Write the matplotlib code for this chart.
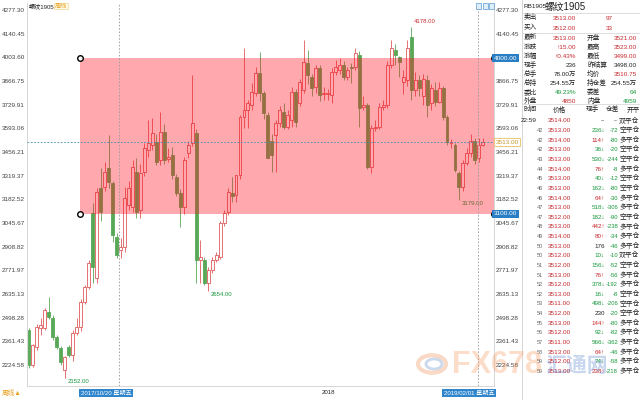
import matplotlib
matplotlib.use('Agg')
import matplotlib.pyplot as plt
from matplotlib.patches import Rectangle, Circle
import numpy as np

plt.rcParams['font.family'] = ['Liberation Sans', 'Noto Sans CJK SC', 'DejaVu Sans']

# weekly candles, RB1905
opens = [2428, 2225, 2329, 2440, 2440, 2533, 2497, 2387, 2323, 2196,
         2329, 2283, 2410, 2445, 2590, 2676, 3104, 2730, 3248, 3254,
         3364, 3277, 2965, 2890, 2907, 3150, 3140, 3343, 3121, 3341,
         3468, 3497, 3514, 3410, 3572, 3415, 3439, 3312, 3220, 3139,
         3450, 3508, 3566, 2835, 2832, 2699, 2774, 2832, 2850, 3046,
         3110, 3220, 3208, 3323, 3658, 3699, 3728, 3797, 3913, 3797,
         3670, 3520, 3555, 3624, 3688, 3601, 3641, 3803, 3740, 3815,
         3971, 3890, 3832, 3942, 3790, 3792, 3786, 3919, 3930, 3960,
         3890, 3948, 3948, 4017, 3718, 3728, 3370, 3595, 3601, 3718,
         3728, 3960, 4046, 4006, 3860, 3872, 4120, 3815, 3872, 3780,
         3872, 3740, 3815, 3745, 3826, 3659, 3508, 3497, 3335, 3254,
         3393, 3451, 3520, 3422, 3500]
highs = [2440, 2345, 2465, 2497, 2555, 2620, 2515, 2400, 2335, 2280,
         2340, 2430, 2497, 2605, 2690, 2830, 3162, 3248, 3364, 3400,
         3555, 3290, 2990, 2960, 3254, 3290, 3410, 3420, 3390, 3510,
         3641, 3653, 3560, 3688, 3620, 3480, 3485, 3330, 3240, 3430,
         3520, 3902, 3590, 2948, 2850, 2790, 2850, 2880, 3060, 3120,
         3250, 3312, 3260, 3670, 4058, 3760, 3855, 3950, 4035, 3810,
         3690, 3560, 3640, 3720, 3740, 3700, 3830, 3820, 3880, 4104,
         4046, 3910, 3960, 3960, 3830, 3820, 3940, 3990, 4000, 3985,
         3950, 3970, 4058, 4040, 3780, 3740, 3610, 3640, 3740, 3760,
         3980, 4104, 4080, 4010, 3930, 4104, 4178, 3920, 3900, 3910,
         3900, 3850, 3860, 3860, 3840, 3670, 3530, 3510, 3345, 3410,
         3480, 3560, 3540, 3540, 3540]
lows = [2210, 2215, 2310, 2400, 2430, 2490, 2370, 2320, 2225, 2152,
        2270, 2250, 2400, 2420, 2580, 2665, 2700, 2700, 3060, 3230,
        3250, 2936, 2844, 2844, 2880, 3120, 3110, 3075, 3075, 3320,
        3430, 3470, 3381, 3380, 3390, 3400, 3300, 3200, 3023, 3100,
        3420, 3490, 2699, 2699, 2690, 2654, 2760, 2820, 2840, 3030,
        3090, 3167, 3167, 3300, 3595, 3595, 3700, 3780, 3750, 3650,
        3420, 3340, 3341, 3600, 3590, 3590, 3600, 3600, 3720, 3800,
        3850, 3780, 3800, 3750, 3760, 3760, 3740, 3900, 3910, 3870,
        3870, 3855, 3930, 3600, 3700, 3360, 3335, 3580, 3590, 3700,
        3710, 3940, 3960, 3890, 3790, 3840, 3760, 3780, 3780, 3730,
        3660, 3700, 3720, 3740, 3640, 3500, 3480, 3340, 3179, 3230,
        3380, 3430, 3390, 3400, 3490]
closes = [2225, 2341, 2445, 2455, 2543, 2505, 2387, 2329, 2242, 2272,
          2283, 2410, 2445, 2590, 2676, 2815, 2792, 3225, 3110, 3340,
          3283, 2977, 2861, 2905, 3191, 3250, 3370, 3112, 3335, 3480,
          3508, 3566, 3399, 3572, 3410, 3425, 3323, 3220, 3139, 3410,
          3497, 3624, 2832, 2850, 2699, 2774, 2832, 2861, 3046, 3104,
          3225, 3200, 3323, 3658, 3699, 3740, 3803, 3913, 3797, 3682,
          3422, 3440, 3624, 3699, 3601, 3670, 3803, 3630, 3860, 3977,
          3902, 3826, 3942, 3786, 3795, 3800, 3919, 3948, 3960, 3890,
          3930, 3942, 4029, 3711, 3730, 3370, 3595, 3601, 3718, 3728,
          3960, 4058, 4017, 3977, 3890, 4058, 3815, 3872, 3826, 3880,
          3728, 3826, 3745, 3826, 3659, 3514, 3514, 3352, 3254, 3393,
          3451, 3520, 3410, 3500, 3513]

ytick_vals = [4277.30, 4140.45, 4003.60, 3866.75, 3729.91, 3593.06, 3456.21,
              3319.37, 3182.52, 3045.67, 2908.82, 2771.97, 2635.13, 2498.28,
              2361.43, 2224.58]

zone_top = 4000.0
zone_bottom = 3100.0
zone_start = 12.8          # candle index where the drawn box begins
last_price = 3513.0
cursor_idx = [22.6, 112.8]  # the two dashed date cursors
cursor_dates = ['2017/10/20 星期五', '2019/02/01 星期五']
extreme_idx = [9, 45, 96, 108]
extreme_kind = ['low', 'low', 'high', 'low']

# quote panel
quote_l_lab = ['最新', '涨跌', '涨幅', '现手', '总手', '总持', '委比', '外盘']
quote_l_val = ['3513.00', '↑15.00', '↑0.43%', '236', '78.00万', '254.55万', '49.23%', '4850']
quote_l_col = ['r', 'r', 'r', 'k', 'k', 'k', 'g', 'r']
quote_r_lab = ['开盘', '最高', '最低', '昨结算', '均价', '持仓差', '委差', '内盘']
quote_r_val = ['3521.00', '3523.00', '3499.00', '3498.00', '3510.75', '254.55万', '64', '4959']
quote_r_col = ['r', 'r', 'r', 'k', 'r', 'k', 'g', 'g']

trade_time = ['22:59', '42', '42', '42', '43', '44', '45', '46', '46', '47', '47', '48', '49',
              '50', '50', '51', '51', '52', '52', '53', '54', '55', '56', '57', '58', '59', '59']
trade_price = ['3514.00', '3513.00', '3514.00', '3513.00', '3513.00', '3514.00', '3513.00',
               '3513.00', '3514.00', '3513.00', '3512.00', '3513.00', '3514.00', '3513.00',
               '3512.00', '3512.00', '3513.00', '3512.00', '3513.00', '3511.00', '3512.00',
               '3513.00', '3512.00', '3511.00', '3513.00', '3512.00', '3513.00']
trade_vol = ['--', '236', '114', '36', '530', '76', '40', '162', '64', '518', '182', '442', '80',
             '176', '10', '156', '76', '378', '16', '498', '230', '144', '92', '566', '64', '74', '238']
trade_dir = ['', 'd', 'u', 'd', 'd', 'u', 'd', 'd', 'u', 'd', 'd', 'u', 'u',
             '', 'd', 'd', 'u', 'd', 'd', 'd', '', 'u', 'd', 'd', 'u', 'd', 'u']
trade_diff = ['--', '-72', '-80', '-20', '-244', '-8', '-12', '-80', '-30', '-306', '-90', '-238',
              '-34', '-46', '-10', '-52', '-56', '-192', '-8', '-206', '-20', '-80', '-82', '-362',
              '-46', '-58', '-218']
trade_type = ['双平仓', '空平仓', '多平仓', '空平仓', '空平仓', '多平仓', '空平仓', '空平仓', '多平仓',
              '多平仓', '空平仓', '多平仓', '多平仓', '多平仓', '双平仓', '空平仓', '多平仓', '多平仓',
              '空平仓', '空平仓', '空平仓', '多平仓', '多平仓', '多平仓', '多平仓', '多平仓', '多平仓']

RED = '#c8282e'
GREEN = '#17983a'
BLACK = '#222222'
cmap = {'r': RED, 'g': GREEN, 'k': BLACK}
UP = '#e05a5a'
DOWN = '#58a858'

W, H = 640, 400
fig = plt.figure(figsize=(6.4, 4), dpi=100)


def ft(x, y, s, **kw):
    kw.setdefault('va', 'center')
    return fig.text(x / W, 1 - y / H, s, **kw)


ax = fig.add_axes([27 / W, 14 / H, 467 / W, 383 / H])
ax.set_xlim(-0.5, 116.8)
ax.set_ylim(2104, 4318)

o = np.array(opens, float)
h = np.array(highs, float)
l = np.array(lows, float)
c = np.array(closes, float)
x = np.arange(len(o))
up = c >= o
edge = np.where(up, UP, DOWN)
face = np.where(up, 'white', DOWN)

ax.vlines(x, l, h, colors=edge, linewidth=0.6, zorder=2)
body_lo = np.minimum(o, c)
body_h = np.maximum(np.abs(c - o), 5)
ax.bar(x, body_h, bottom=body_lo, width=0.74, color=face, edgecolor=edge,
       linewidth=0.6, zorder=2.2)

# high / low markers
for i, kind in zip(extreme_idx, extreme_kind):
    if kind == 'high':
        ax.annotate('%.2f' % h[i], (i, h[i]), xytext=(2, 2), textcoords='offset points',
                    fontsize=4.3, color=RED, va='bottom', zorder=2.5)
    else:
        ax.annotate('%.2f' % l[i], (i, l[i]), xytext=(2, -1), textcoords='offset points',
                    fontsize=4.3, color=GREEN, va='top', zorder=2.5)

# drawn box
xmax = ax.get_xlim()[1]
ax.add_patch(Rectangle((zone_start, zone_bottom), xmax - zone_start, zone_top - zone_bottom,
                       facecolor='#ff0f1e', alpha=0.36, linewidth=0, zorder=3))
ax.plot([zone_start, zone_start], [zone_top, zone_bottom], 'o', ms=4, mfc='white',
        mec='black', mew=1.0, zorder=6)
ax.plot([xmax, xmax], [zone_top, zone_bottom], 'o', ms=4, mfc='white',
        mec='black', mew=1.0, zorder=6)

ax.axhline(last_price, color='#3d8fb0', lw=0.6, ls=(0, (2, 2)), zorder=4)
for cx in cursor_idx:
    ax.axvline(cx, color='#9a9a9a', lw=0.6, ls=(0, (2, 2)), zorder=4)

ax.set_yticks(ytick_vals)
ax.set_yticklabels(['%.2f' % v for v in ytick_vals])
ax.tick_params(axis='y', length=0, labelsize=4.6, labelcolor='#444444', pad=1.5,
               labelleft=True, labelright=True)
ax.set_xticks([])
for s in ax.spines.values():
    s.set_color('#d0d0d0')
    s.set_linewidth(0.6)
ax.spines['top'].set_visible(False)

# right axis price tags
yt = ax.get_yaxis_transform()
for v in (zone_top, zone_bottom):
    ax.text(1.0, v, '%.2f' % v, transform=yt, fontsize=4.6, color='white', ha='left',
            va='center', zorder=7, clip_on=False,
            bbox=dict(boxstyle='square,pad=0.25', fc='#2a7fc4', ec='none'))
ax.text(1.003, last_price, '%.2f' % last_price, transform=yt, fontsize=4.6, color='#c8962a',
        ha='left', va='center', zorder=7, clip_on=False,
        bbox=dict(boxstyle='square,pad=0.25', fc='white', ec='#e8c060', lw=0.6))

# top left title
ft(29, 6, '螺纹1905', fontsize=4.4, color=BLACK)
ft(55, 6, '周线', fontsize=4.4, color='#e8a020',
   bbox=dict(boxstyle='square,pad=0.1', fc='#fffbe8', ec='#f0d890', lw=0.5))
# small toolbar icons
for k in range(3):
    fig.patches.append(Rectangle(((476 + 6.5 * k) / W, 1 - 9 / H), 5 / W, 6 / H,
                                 transform=fig.transFigure, fc='#dfeefa', ec='#5a9ad0', lw=0.5))

# bottom date strip
ft(2, 393, '周线▲', fontsize=4.8, color='#e8a020')
ft(106, 393, cursor_dates[0], fontsize=4.4, color='white', ha='center',
   bbox=dict(boxstyle='square,pad=0.2', fc='#2f86cc', ec='none'))
ft(322, 393, '2018', fontsize=4.4, color=BLACK)
ft(469, 393, cursor_dates[1], fontsize=4.4, color='white', ha='center',
   bbox=dict(boxstyle='square,pad=0.2', fc='#2f86cc', ec='none'))

# quote panel
fig.add_artist(plt.Line2D([522 / W, 522 / W], [0, 1], color='#d0d0d0', lw=0.6))
for yy in (13, 33, 104):
    fig.add_artist(plt.Line2D([522 / W, 1], [1 - yy / H] * 2, color='#d8d8d8', lw=0.6))
ft(524, 7, 'RB1905', fontsize=4.6, color=BLACK)
ft(545, 7, '螺纹1905', fontsize=7, color=BLACK)
ft(524, 18, '卖出', fontsize=4.8, color=BLACK)
ft(576, 18, '3513.00', fontsize=4.6, color=RED, ha='right')
ft(613, 18, '97', fontsize=4.6, color=RED, ha='right')
ft(524, 28, '买入', fontsize=4.8, color=BLACK)
ft(576, 28, '3512.00', fontsize=4.6, color=RED, ha='right')
ft(613, 28, '33', fontsize=4.6, color=RED, ha='right')
for k in range(len(quote_l_lab)):
    yy = 38 + 9.05 * k
    ft(524, yy, quote_l_lab[k], fontsize=4.8, color=BLACK)
    ft(576, yy, quote_l_val[k], fontsize=4.6, color=cmap[quote_l_col[k]], ha='right')
    ft(587, yy, quote_r_lab[k], fontsize=4.8, color=BLACK)
    ft(637, yy, quote_r_val[k], fontsize=4.6, color=cmap[quote_r_col[k]], ha='right')

ft(523, 110, '时间', fontsize=4.8, color=BLACK)
ft(553, 110, '价格', fontsize=4.8, color=BLACK)
ft(586, 110, '现手', fontsize=4.8, color=BLACK)
ft(606, 110, '仓差', fontsize=4.8, color=BLACK)
ft(627, 110, '开平', fontsize=4.8, color=BLACK)
for k in range(len(trade_time)):
    yy = 121 + 9.63 * k
    if k == 0:
        ft(521, yy, trade_time[k], fontsize=4.6, color=BLACK)
    else:
        ft(543, yy, trade_time[k], fontsize=4.0, color='#666666', ha='right')
    ft(571, yy, trade_price[k], fontsize=4.6, color=RED, ha='right')
    d = trade_dir[k]
    vcol = GREEN if d == 'd' else (RED if d == 'u' else BLACK)
    arrow = {'d': '↓', 'u': '↑', '': ''}[d]
    ft(605, yy, trade_vol[k] + arrow, fontsize=4.5, color=vcol, ha='right')
    dcol = BLACK if trade_diff[k] == '--' else GREEN
    ft(618, yy, trade_diff[k], fontsize=4.2, color=dcol, ha='right')
    ft(619, yy, trade_type[k], fontsize=4.9, color=BLACK)

# watermark
fig.patches.append(Circle((432 / W, 1 - 364 / H), 14 / W, transform=fig.transFigure,
                          fc='none', ec='#f0a070', lw=3, alpha=0.4))
fig.patches.append(Circle((434 / W, 1 - 364 / H), 8 / W, transform=fig.transFigure,
                          fc='none', ec='#7fa0d0', lw=2, alpha=0.4))
ft(452, 365, 'FX678', fontsize=22, color='#f29050', alpha=0.3, fontweight='bold')
ft(545, 366, '汇通网', fontsize=15, color='#4a78c8', alpha=0.3, fontweight='bold')

fig.savefig('out.png', dpi=100)
